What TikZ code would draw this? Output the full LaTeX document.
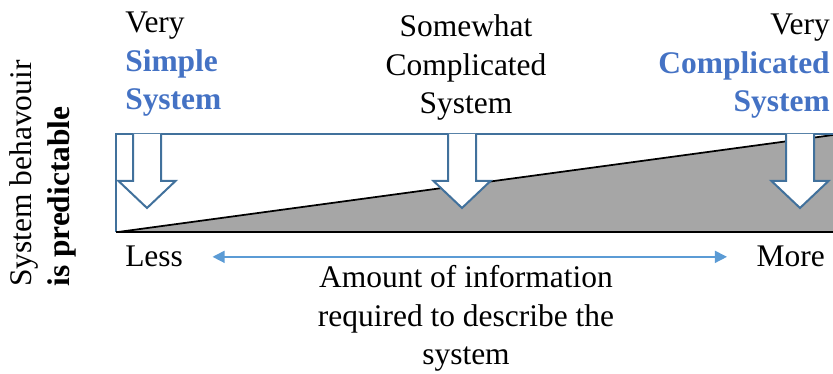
\documentclass[tikz,border=0pt]{standalone}
\usepackage{fontspec}
\setmainfont{Liberation Serif}
\usetikzlibrary{arrows.meta}
\definecolor{titleblue}{HTML}{4472C4}
\definecolor{boxblue}{HTML}{41719C}
\definecolor{axisblue}{HTML}{5B9BD5}
\definecolor{wedgegray}{HTML}{A6A6A6}
\newcommand{\sysword}[1]{\textcolor{titleblue}{\bfseries #1}}

\begin{document}
\begin{tikzpicture}[x=0.75pt,y=-0.75pt,
  every node/.style={font=\rmfamily\fontsize{23.6}{29}\selectfont, inner sep=0pt}]
  \useasboundingbox (0,0) rectangle (833,374);
  % grey wedge
  \fill[wedgegray] (118,232) -- (833,135) -- (833,232) -- cycle;
  \draw[line width=1.3pt] (118,232) -- (833,135);
  % frame
  \draw[boxblue, line width=1.5pt] (116,232) -- (116,134) -- (840,134);
  \draw[line width=2.2pt] (116,232) -- (840,232);
  % block arrows
  \foreach \x in {147,462,800} {
    \draw[boxblue, fill=white, line width=1.5pt, line join=miter]
      (\x-14,134) -- (\x-14,181) -- (\x-28.5,181) -- (\x,208)
      -- (\x+28.5,181) -- (\x+14,181) -- (\x+14,134);
  }
  % labels on top (base = last line)
  \node[anchor=base west, align=left] (simple) at (125,110)
    {Very\\\sysword{Simple}\\\sysword{System}};
  \node[anchor=base, align=center] (somewhat) at (466,114)
    {Somewhat\\Complicated\\System};
  \node[anchor=base east, align=right] (complicated) at (830,112)
    {Very\\\sysword{Complicated}\\\sysword{System}};
  % axis
  \node[anchor=base west] (less) at (125,267) {Less};
  \node[anchor=base east] (more) at (825,267) {More};
  \draw[axisblue, line width=1.1pt, {Triangle[length=9pt,width=9pt]}-{Triangle[length=9pt,width=9pt]},
    shorten <=22pt, shorten >=22pt] (less) -- (more);
  \node[anchor=base, align=center] (amount) at (466,365)
    {Amount of information\\required to describe the\\system};
  % vertical label
  \node[rotate=90, anchor=north west, align=left] (predict) at (9,287)
    {System behavouir\\\textbf{is predictable}};
\end{tikzpicture}
\end{document}
